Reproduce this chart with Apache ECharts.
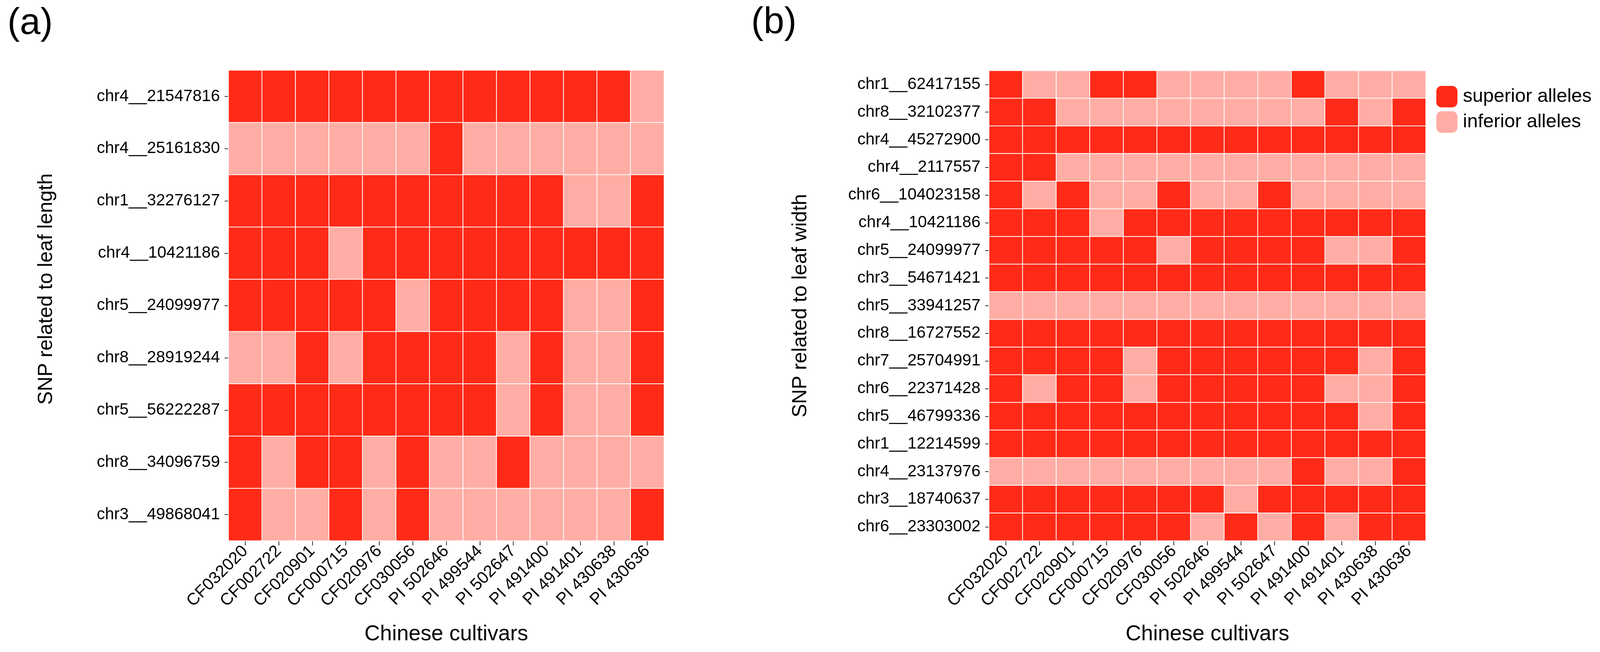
<!DOCTYPE html>
<html>
<head>
<meta charset="utf-8">
<script src="https://cdn.jsdelivr.net/npm/echarts@6/dist/echarts.min.js"></script>
<style>
html,body{margin:0;padding:0;background:#fff;}
#chart{width:4179px;height:1670px;}
</style>
</head>
<body>
<div id="chart"></div>
<script>
// ---- data ----
const cultivars = ['CF032020','CF002722','CF020901','CF000715','CF020976','CF030056','PI 502646','PI 499544','PI 502647','PI 491400','PI 491401','PI 430638','PI 430636'];

const snpLength = ['chr4__21547816','chr4__25161830','chr1__32276127','chr4__10421186','chr5__24099977','chr8__28919244','chr5__56222287','chr8__34096759','chr3__49868041'];

const snpWidth = ['chr1__62417155','chr8__32102377','chr4__45272900','chr4__2117557','chr6__104023158','chr4__10421186','chr5__24099977','chr3__54671421','chr5__33941257','chr8__16727552','chr7__25704991','chr6__22371428','chr5__46799336','chr1__12214599','chr4__23137976','chr3__18740637','chr6__23303002'];

// 1 = superior allele, 0 = inferior allele (rows follow snp order, columns follow cultivars)
const lengthAlleles = [
  [1,1,1,1,1,1,1,1,1,1,1,1,0],
  [0,0,0,0,0,0,1,0,0,0,0,0,0],
  [1,1,1,1,1,1,1,1,1,1,0,0,1],
  [1,1,1,0,1,1,1,1,1,1,1,1,1],
  [1,1,1,1,1,0,1,1,1,1,0,0,1],
  [0,0,1,0,1,1,1,1,0,1,0,0,1],
  [1,1,1,1,1,1,1,1,0,1,0,0,1],
  [1,0,1,1,0,1,0,0,1,0,0,0,0],
  [1,0,0,1,0,1,0,0,0,0,0,0,1]
];

const widthAlleles = [
  [1,0,0,1,1,0,0,0,0,1,0,0,0],
  [1,1,0,0,0,0,0,0,0,0,1,0,1],
  [1,1,1,1,1,1,1,1,1,1,1,1,1],
  [1,1,0,0,0,0,0,0,0,0,0,0,0],
  [1,0,1,0,0,1,0,0,1,0,0,0,0],
  [1,1,1,0,1,1,1,1,1,1,1,1,1],
  [1,1,1,1,1,0,1,1,1,1,0,0,1],
  [1,1,1,1,1,1,1,1,1,1,1,1,1],
  [0,0,0,0,0,0,0,0,0,0,0,0,0],
  [1,1,1,1,1,1,1,1,1,1,1,1,1],
  [1,1,1,1,0,1,1,1,1,1,1,0,1],
  [1,0,1,1,0,1,1,1,1,1,0,0,1],
  [1,1,1,1,1,1,1,1,1,1,1,0,1],
  [1,1,1,1,1,1,1,1,1,1,1,1,1],
  [0,0,0,0,0,0,0,0,0,1,0,0,1],
  [1,1,1,1,1,1,1,0,1,1,1,1,1],
  [1,1,1,1,1,1,0,1,0,1,0,1,1]
];

const alleleLabels = ['superior alleles','inferior alleles'];
const panelLabels = ['(a)','(b)'];
const axisTitles = ['SNP related to leaf length','SNP related to leaf width','Chinese cultivars'];

// ---- build ----
const RED = '#FF2A17';
const PINK = '#FFADA5';
const FONT = 'Liberation Sans, Arial, Helvetica, sans-serif';

function toCells(matrix){
  const out = [];
  matrix.forEach((row, yi) => row.forEach((v, xi) => out.push([xi, yi, v])));
  return out;
}

function xAxisCfg(gi){
  return {
    type:'category', gridIndex:gi, data:cultivars,
    axisLine:{show:false},
    axisTick:{show:true, alignWithLabel:true, length:12, lineStyle:{color:'#333', width:2}},
    axisLabel:{rotate:45, margin:20, fontSize:43, color:'#000', fontFamily:FONT, interval:0},
    splitLine:{show:false},
    name:axisTitles[2], nameLocation:'middle', nameGap:212,
    nameTextStyle:{fontSize:55, color:'#000', fontFamily:FONT}
  };
}
function yAxisCfg(gi, cats, title, gap, pad){
  return {
    type:'category', gridIndex:gi, data:cats, inverse:true,
    axisLine:{show:false},
    axisTick:{show:true, alignWithLabel:true, length:10, lineStyle:{color:'#333', width:2}},
    axisLabel:{margin:22, fontSize:42, color:'#000', fontFamily:FONT, interval:0},
    splitLine:{show:false},
    name:title, nameLocation:'middle', nameGap:gap, nameRotate:90,
    nameTextStyle:{fontSize:52, color:'#000', fontFamily:FONT, padding:pad}
  };
}

const chart = echarts.init(document.getElementById('chart'), null, {renderer:'canvas'});
chart.setOption({
  backgroundColor:'#fff',
  animation:false,
  title:[
    {text:panelLabels[0], left:14, top:8, textStyle:{fontSize:95, fontWeight:'normal', color:'#000', fontFamily:FONT}},
    {text:panelLabels[1], left:1918, top:6, textStyle:{fontSize:95, fontWeight:'normal', color:'#000', fontFamily:FONT}}
  ],
  grid:[
    {left:585, right:4179-1700, top:180, bottom:1670-1385, outerBoundsMode:'none'},
    {left:2532, right:4179-3650, top:181, bottom:1670-1385, outerBoundsMode:'none'}
  ],
  xAxis:[xAxisCfg(0), xAxisCfg(1)],
  yAxis:[
    yAxisCfg(0, snpLength, axisTitles[0], 440, [0,0,0,84]),
    yAxisCfg(1, snpWidth, axisTitles[1], 456, [0,0,0,0])
  ],
  visualMap:{
    type:'piecewise', seriesIndex:[0,1], orient:'vertical', inverse:false, align:'left',
    left:3677, top:220, padding:0, itemWidth:54, itemHeight:55, itemGap:10, textGap:14,
    itemSymbol:'roundRect', selectedMode:false, showLabel:true,
    pieces:[
      {value:1, label:alleleLabels[0], color:RED},
      {value:0, label:alleleLabels[1], color:PINK}
    ],
    textStyle:{fontSize:49, color:'#000', fontFamily:FONT}
  },
  series:[
    {type:'heatmap', xAxisIndex:0, yAxisIndex:0, data:toCells(lengthAlleles),
     itemStyle:{borderColor:'#fff', borderWidth:2}, emphasis:{disabled:true}},
    {type:'heatmap', xAxisIndex:1, yAxisIndex:1, data:toCells(widthAlleles),
     itemStyle:{borderColor:'#fff', borderWidth:2}, emphasis:{disabled:true}}
  ]
});
</script>
</body>
</html>
